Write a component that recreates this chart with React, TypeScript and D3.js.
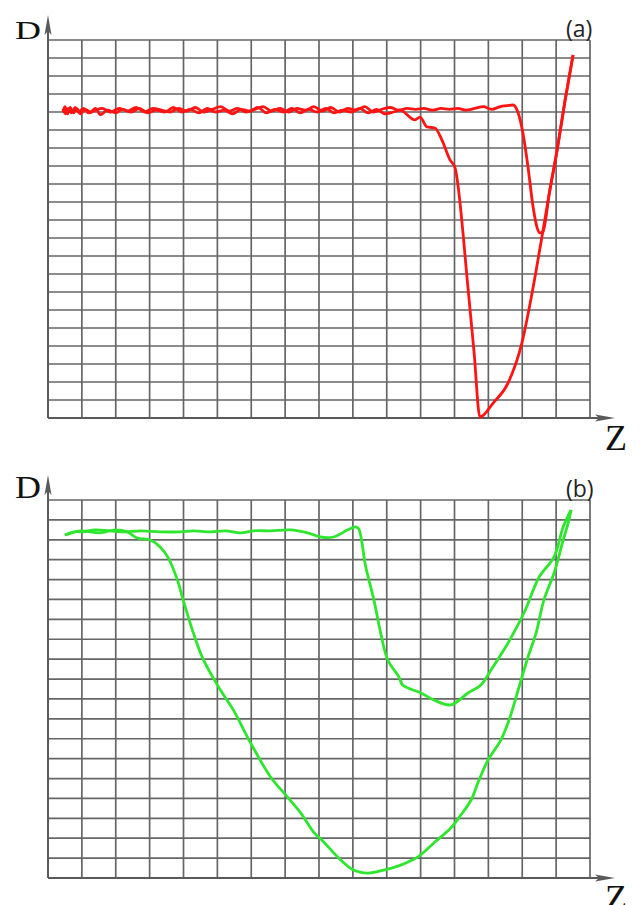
import React from "react";
import * as d3 from "d3";

// curves as [z, d] in grid units (one unit = one grid cell)
const redEarly: [number, number][] = [
  [0.44, 17.0], [0.5, 17.3], [0.58, 16.9], [0.66, 17.25], [0.75, 16.95], [0.85, 17.2],
  [0.95, 16.9], [1.1, 17.15], [1.25, 17.0], [1.4, 17.2], [1.55, 16.85], [1.75, 17.1],
  [2.0, 16.95], [2.2, 17.15], [2.45, 17.0], [2.7, 17.2], [2.95, 16.95], [3.2, 17.1],
  [3.45, 17.0], [3.7, 17.25], [3.95, 17.0], [4.2, 17.15], [4.45, 16.95], [4.7, 17.2],
  [4.95, 17.0], [5.2, 17.1], [5.45, 16.9], [5.7, 17.15], [5.95, 17.05], [6.2, 17.25],
  [6.45, 16.95], [6.7, 17.15], [6.95, 17.0], [7.2, 17.2], [7.45, 16.95], [7.7, 17.15],
  [7.95, 17.0], [8.2, 17.2], [8.45, 16.95], [8.7, 17.1], [8.95, 17.0], [9.2, 17.2],
  [9.45, 16.95], [9.7, 17.15], [9.95, 16.9], [10.2, 17.0], [10.39, 17.1],
  [10.83, 16.56], [10.98, 16.72], [11.19, 16.17], [11.42, 16.11], [11.63, 15.44],
  [11.87, 14.33], [12.01, 13.94], [12.4, 7.2], [12.58, 3.6], [12.75, 0.05],
  [13.14, 0.83], [13.58, 1.94], [13.99, 4.17], [14.29, 6.94], [14.58, 10.06],
  [14.8, 12.5], [15.03, 14.89], [15.26, 17.6], [15.5, 20.17],
];

const redLate: [number, number][] = [
  [0.44, 17.15], [0.52, 16.9], [0.6, 17.2], [0.7, 16.95], [0.8, 17.25], [0.9, 17.0],
  [1.05, 17.2], [1.2, 16.95], [1.4, 17.1], [1.6, 17.2], [1.85, 17.0], [2.1, 17.2],
  [2.35, 17.05], [2.6, 17.25], [2.85, 17.0], [3.1, 17.2], [3.35, 17.1], [3.6, 17.0],
  [3.85, 17.2], [4.1, 17.05], [4.35, 17.25], [4.6, 17.0], [4.85, 17.15], [5.1, 17.3],
  [5.35, 17.05], [5.6, 17.2], [5.85, 17.0], [6.1, 17.15], [6.35, 17.3], [6.6, 17.05],
  [6.85, 17.2], [7.1, 17.0], [7.35, 17.2], [7.6, 17.1], [7.85, 17.3], [8.1, 17.05],
  [8.35, 17.25], [8.6, 17.0], [8.85, 17.2], [9.1, 17.1], [9.35, 17.3], [9.6, 17.0],
  [9.85, 17.15], [10.1, 17.25], [10.35, 17.1], [10.6, 17.2], [10.85, 17.15],
  [11.1, 17.2], [11.35, 17.1], [11.6, 17.2], [11.85, 17.15], [12.1, 17.2],
  [12.35, 17.1], [12.6, 17.2], [12.85, 17.3], [13.1, 17.15], [13.35, 17.3],
  [13.55, 17.35], [13.73, 17.39], [13.87, 17.0], [14.02, 15.83], [14.17, 13.94],
  [14.32, 11.72], [14.44, 10.56], [14.52, 10.28], [14.61, 10.33], [14.8, 12.5],
  [15.03, 14.89], [15.26, 17.6], [15.5, 20.17],
];

const greenLate: [number, number][] = [
  [0.5, 17.24], [0.8, 17.4], [1.04, 17.4], [1.39, 17.5], [1.83, 17.45], [2.28, 17.4],
  [2.72, 17.45], [3.31, 17.4], [3.91, 17.4], [4.29, 17.45], [4.79, 17.4], [5.24, 17.45],
  [5.68, 17.35], [6.07, 17.45], [6.57, 17.45], [7.16, 17.5], [7.66, 17.35], [8.05, 17.14],
  [8.43, 17.14], [8.85, 17.5], [9.08, 17.65], [9.17, 17.55], [9.38, 15.64], [9.62, 13.98],
  [9.82, 12.32], [10.03, 10.96], [10.36, 10.11], [10.47, 9.7], [11.01, 9.3], [11.39, 8.95],
  [11.89, 8.7], [12.4, 9.3], [12.78, 9.7], [13.08, 10.46], [13.58, 11.81], [14.05, 13.32],
  [14.5, 15.13], [14.94, 16.14], [15.21, 17.65], [15.44, 18.5],
];

const greenEarly: [number, number][] = [
  [0.5, 17.24], [0.95, 17.45], [1.54, 17.35], [1.98, 17.5], [2.34, 17.4], [2.63, 17.09],
  [3.02, 16.99], [3.31, 16.64], [3.55, 16.09], [3.82, 14.98], [3.99, 13.98], [4.29, 12.32],
  [4.59, 10.96], [5.09, 9.45], [5.47, 8.45], [5.98, 6.79], [6.57, 5.08], [7.07, 4.07],
  [7.46, 3.27], [7.84, 2.31], [8.14, 1.81], [8.55, 1.06], [9.02, 0.4], [9.44, 0.25],
  [9.91, 0.4], [10.41, 0.65], [10.92, 1.06], [11.39, 1.76], [11.89, 2.51], [12.19, 3.17],
  [12.49, 3.92], [12.69, 4.78], [12.99, 5.93], [13.37, 6.94], [13.61, 7.94], [13.88, 9.45],
  [14.17, 11.11], [14.41, 12.32], [14.64, 13.98], [14.94, 15.33], [15.21, 16.99],
  [15.38, 18.0], [15.44, 18.5],
];

const zCells = 16;
const panelLabels = ["(a)", "(b)"];

type PanelProps = {
  top: number;
  bottom: number;
  rows: number;
  series: [number, number][][];
  color: string;
  smooth: boolean;
  label: string;
  dSize: number;
  dTop: number;
};

function Panel({ top, bottom, rows, series, color, smooth, label, dSize, dTop }: PanelProps) {
  const x = d3.scaleLinear().domain([0, zCells]).range([48, 590]);
  const y = d3.scaleLinear().domain([0, rows]).range([bottom, top]);
  const line = d3
    .line<[number, number]>()
    .x((d) => x(d[0]))
    .y((d) => y(d[1]))
    .curve(smooth ? d3.curveCatmullRom.alpha(0.5) : d3.curveMonotoneX);

  const axisTop = top - 25;
  const axisRight = 615;

  return (
    <g>
      {d3.range(0, zCells + 1).map((i) => (
        <line key={"v" + i} x1={x(i)} x2={x(i)} y1={top} y2={bottom} stroke="#666" strokeWidth={1.7} />
      ))}
      {d3.range(0, rows + 1).map((j) => (
        <line key={"h" + j} x1={x(0)} x2={x(zCells)} y1={y(j)} y2={y(j)} stroke="#666" strokeWidth={1.7} />
      ))}
      {/* axes with arrows */}
      <line x1={x(0)} x2={x(0)} y1={bottom} y2={axisTop + 6} stroke="#5a5a5a" strokeWidth={2} />
      <line x1={x(0)} x2={axisRight - 6} y1={bottom} y2={bottom} stroke="#5a5a5a" strokeWidth={2} />
      <path
        d={`M${x(0)},${axisTop} L${x(0) + 3.5},${axisTop + 20} L${x(0)},${axisTop + 16} L${x(0) - 3.5},${axisTop + 20} Z`}
        fill="#5a5a5a"
      />
      <path
        d={`M${axisRight},${bottom} L${axisRight - 20},${bottom - 3.5} L${axisRight - 16},${bottom} L${axisRight - 20},${bottom + 3.5} Z`}
        fill="#5a5a5a"
      />
      {series.map((s, i) => (
        <path key={i} d={line(s) ?? ""} fill="none" stroke={color} strokeWidth={2.8} strokeLinejoin="round" />
      ))}
      <text
        x={15}
        y={dTop}
        fontFamily="'Liberation Serif', 'DejaVu Serif', serif"
        fontSize={dSize}
        textLength={26}
        lengthAdjust="spacingAndGlyphs"
        fill="#111"
      >
        D
      </text>
      <text x={605} y={bottom + 32} fontFamily="'Liberation Serif', serif" fontSize={36} fill="#111">
        Z
      </text>
      <text x={566} y={top - 3} fontFamily="'Open Sans', 'Liberation Sans', sans-serif" fontSize={23} fill="#222">
        {label}
      </text>
    </g>
  );
}

export default function App() {
  return (
    <svg
      width={640}
      height={905}
      style={{ position: "absolute", left: 0, top: 0, background: "#fff" }}
    >
      <rect width={640} height={905} fill="#fff" />
      <Panel top={40} bottom={418} rows={21} series={[redEarly, redLate]} color="#ff1414" smooth={false} label={panelLabels[0]} dSize={25} dTop={39} />
      <Panel top={500} bottom={878} rows={19} series={[greenEarly, greenLate]} color="#2ee62e" smooth={true} label={panelLabels[1]} dSize={31} dTop={498} />
    </svg>
  );
}
